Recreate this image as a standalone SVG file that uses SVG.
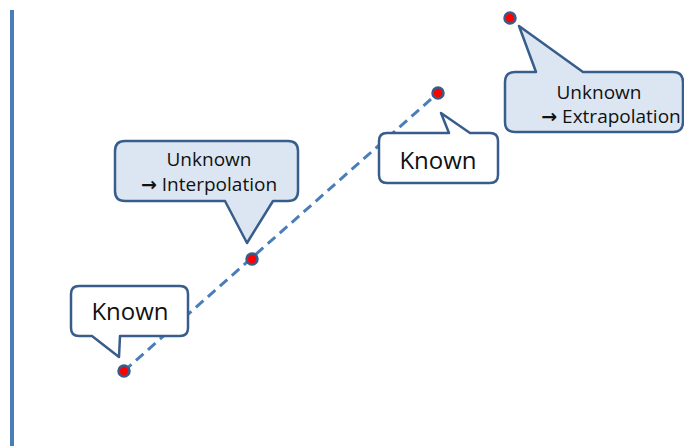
<svg xmlns="http://www.w3.org/2000/svg" width="684" height="446" viewBox="0 0 684 446">
<style>
.co{stroke:#385D8A;stroke-width:2.5;stroke-linejoin:round}
.w{fill:#FFFFFF}
.b{fill:#DCE6F2}
.t{font-family:"Open Sans","Noto Sans",sans-serif;fill:#111;text-anchor:middle}
.k{font-size:24px}
.u{font-size:19px}
.ar{font-family:"DejaVu Sans",sans-serif;font-weight:bold}
.pt{fill:#FF0000;stroke:#385D8A;stroke-width:2.5}
</style>
<rect width="684" height="446" fill="#FFFFFF"/>
<line x1="12" y1="10" x2="12" y2="446" stroke="#4A7EBB" stroke-width="4"/>
<g id="connectors">
<line x1="124" y1="371" x2="438" y2="93" stroke="#4A7EBB" stroke-width="3" stroke-dasharray="10,6"/>
</g>
<g id="known1">
<path class="co w" d="M79,286 H180 Q188,286 188,294 V328 Q188,336 180,336 H120 L119,357 L92,336 H79 Q71,336 71,328 V294 Q71,286 79,286 Z"/>
<text class="t k" x="130" y="320">Known</text>
</g>
<g id="interp">
<path class="co b" d="M125,141 H288 Q298,141 298,151 V191 Q298,201 288,201 H273 L247,243 L225,201 H125 Q115,201 115,191 V151 Q115,141 125,141 Z"/>
<text class="t u" x="209" y="166">Unknown</text>
<text class="t u" x="209" y="191"><tspan class="ar">→</tspan> Interpolation</text>
</g>
<g id="known2">
<path class="co w" d="M387,133 H449 L441,113 L470,133 H490 Q498,133 498,141 V175 Q498,183 490,183 H387 Q379,183 379,175 V141 Q379,133 387,133 Z"/>
<text class="t k" x="438" y="169">Known</text>
</g>
<g id="extrap">
<path class="co b" d="M515,72 H536 L519,26 L583,72 H673 Q683,72 683,82 V122 Q683,132 673,132 H515 Q505,132 505,122 V82 Q505,72 515,72 Z"/>
<text class="t u" x="599" y="99">Unknown</text>
<text class="t u" x="611" y="123"><tspan class="ar">→</tspan> Extrapolation</text>
</g>
<g id="points">
<circle class="pt" cx="124" cy="371" r="5.5"/>
<circle class="pt" cx="252" cy="259" r="5.5"/>
<circle class="pt" cx="438" cy="93" r="5.5"/>
<circle class="pt" cx="510" cy="18" r="5.5"/>
</g>
</svg>
